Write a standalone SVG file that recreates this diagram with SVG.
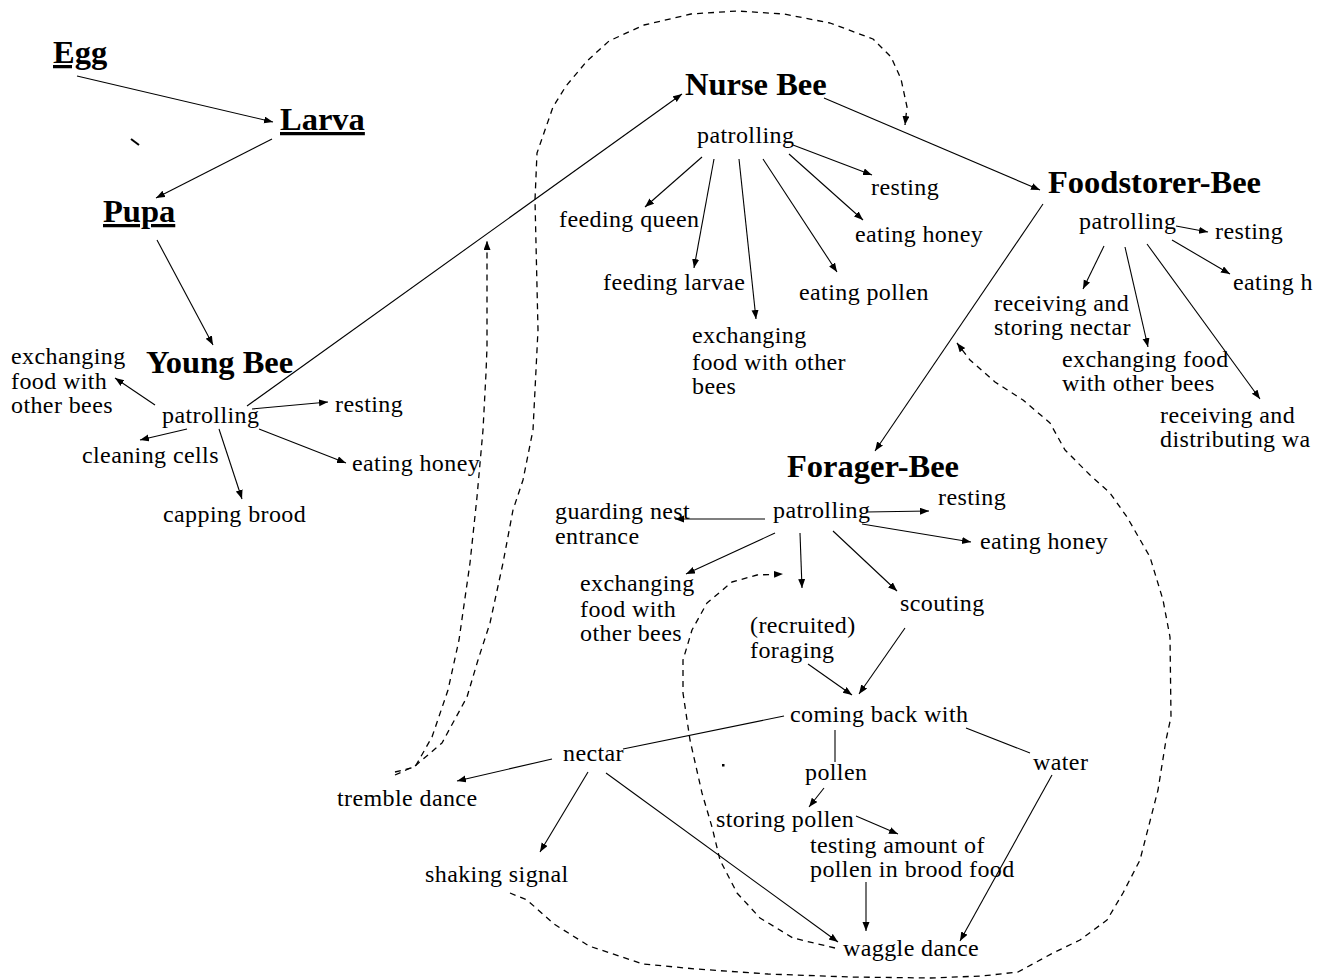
<svg xmlns="http://www.w3.org/2000/svg" width="1332" height="980" viewBox="0 0 1332 980">
<style>
text{font-family:"Liberation Serif","Times New Roman",serif;fill:#000}
.t{font-size:24px;letter-spacing:0.4px}
.b{font-size:32.5px;font-weight:bold}
.u{text-decoration:underline}
.c{fill:none;stroke:#000;stroke-width:1.1}
.d{fill:none;stroke:#000;stroke-width:1.3;stroke-dasharray:6 5;stroke-linejoin:round}
</style>
<defs>
<marker id="ah" markerUnits="userSpaceOnUse" markerWidth="10" markerHeight="8" refX="9" refY="3.5" orient="auto">
<path d="M0,0 L9,3.5 L0,7 z" fill="#000"/>
</marker>
</defs>
<rect width="1332" height="980" fill="#fff"/>

<g id="connectors">
<g class="c" marker-end="url(#ah)">
<path d="M77,76 L273,122"/>
<path d="M272,139 L156,198"/>
<path d="M157,240 L213,345"/>
<path d="M155,405 L115,378"/>
<path d="M252,409 L328,402"/>
<path d="M187,429 L140,440"/>
<path d="M219,429 L242,499"/>
<path d="M259,429 L346,463"/>
<path d="M247,406 L682,94"/>
<path d="M793,145 L872,175"/>
<path d="M789,154 L863,220"/>
<path d="M702,157 L645,207"/>
<path d="M714,159 L694,268"/>
<path d="M739,159 L756,319"/>
<path d="M763,159 L837,272"/>
<path d="M824,98 L1040,190"/>
<path d="M1176,226 L1208,232"/>
<path d="M1172,240 L1230,274"/>
<path d="M1104,246 L1083,289"/>
<path d="M1125,247 L1148,347"/>
<path d="M1147,244 L1260,399"/>
<path d="M1043,204 L875,451"/>
<path d="M765,519 L675,519"/>
<path d="M866,512 L929,511"/>
<path d="M862,524 L971,542"/>
<path d="M775,533 L686,574"/>
<path d="M800,533 L802,588"/>
<path d="M833,531 L897,591"/>
<path d="M905,628 L859,694"/>
<path d="M808,664 L852,695"/>
<path d="M552,759 L457,781"/>
<path d="M588,772 L540,852"/>
<path d="M606,773 L838,942"/>
<path d="M824,788 L809,807"/>
<path d="M856,816 L898,834"/>
<path d="M866,882 L866,931"/>
<path d="M1052,775 L960,941"/>
</g>
<g class="c">
<path d="M784,716 L623,749"/>
<path d="M835,730 L835,762"/>
<path d="M966,728 L1030,753"/>
</g>
<g class="d" marker-end="url(#ah)">
<path d="M395,775 L415,766 L442,743 L467,697 L478,660 L490,623 L503,563 L513,510 L523,480 L533,430 L538,330 L535,200 L537,153 L553,107 L566,86 L587,61 L609,41 L644,25 L691,14 L737,11 L784,14 L830,23 L873,39 L891,57 L901,79 L907,107 L905,125"/>
<path d="M395,772 L415,767 L432,737 L448,690 L459,640 L470,563 L477,497 L483,430 L486,373 L487,347 L487,241"/>
<path d="M510,893 L527,900 L554,924 L589,946 L643,964 L696,969 L768,974 L850,977 L930,978 L982,976 L1018,972 L1053,953 L1080,940 L1107,920 L1123,893 L1140,860 L1158,790 L1166,740 L1171,717 L1170,637 L1163,600 L1150,557 L1127,517 L1110,493 L1090,475 L1065,450 L1050,423 L1023,400 L995,382 L970,360 L957,343"/>
<path d="M835,948 L793,938 L760,918 L737,893 L720,860 L712,827 L702,793 L690,740 L683,693 L683,660 L692,630 L707,603 L732,582 L757,575 L783,574"/>
</g>
<path d="M131,139 L139,145" stroke="#000" stroke-width="2"/>
<rect x="722" y="764" width="2.5" height="2.5" fill="#000"/>
</g>

<g id="egg"><text class="b u" x="53" y="63">Egg</text></g>
<g id="larva"><text class="b u" x="280" y="130">Larva</text></g>
<g id="pupa"><text class="b u" x="103" y="222">Pupa</text></g>

<g id="young-bee"><text class="b" x="146" y="373">Young Bee</text></g>
<g id="yb-patrolling"><text class="t" x="162" y="423">patrolling</text></g>
<g id="yb-exchanging"><text class="t" x="11" y="364">exchanging</text><text class="t" x="11" y="389">food with</text><text class="t" x="11" y="413">other bees</text></g>
<g id="yb-resting"><text class="t" x="335" y="412">resting</text></g>
<g id="yb-cleaning"><text class="t" x="82" y="463">cleaning cells</text></g>
<g id="yb-eating-honey"><text class="t" x="352" y="471">eating honey</text></g>
<g id="yb-capping"><text class="t" x="163" y="522">capping brood</text></g>

<g id="nurse-bee"><text class="b" x="685" y="95">Nurse Bee</text></g>
<g id="nb-patrolling"><text class="t" x="697" y="143">patrolling</text></g>
<g id="nb-resting"><text class="t" x="871" y="195">resting</text></g>
<g id="nb-eating-honey"><text class="t" x="855" y="242">eating honey</text></g>
<g id="nb-feeding-queen"><text class="t" x="559" y="227">feeding queen</text></g>
<g id="nb-feeding-larvae"><text class="t" x="603" y="290">feeding larvae</text></g>
<g id="nb-eating-pollen"><text class="t" x="799" y="300">eating pollen</text></g>
<g id="nb-exchanging"><text class="t" x="692" y="343">exchanging</text><text class="t" x="692" y="370">food with other</text><text class="t" x="692" y="394">bees</text></g>

<g id="foodstorer-bee"><text class="b" x="1048" y="193">Foodstorer-Bee</text></g>
<g id="fs-patrolling"><text class="t" x="1079" y="229">patrolling</text></g>
<g id="fs-resting"><text class="t" x="1215" y="239">resting</text></g>
<g id="fs-eating"><text class="t" x="1233" y="290">eating h</text></g>
<g id="fs-receiving-storing"><text class="t" x="994" y="311">receiving and</text><text class="t" x="994" y="335">storing nectar</text></g>
<g id="fs-exchanging"><text class="t" x="1062" y="367">exchanging food</text><text class="t" x="1062" y="391">with other bees</text></g>
<g id="fs-receiving-distributing"><text class="t" x="1160" y="423">receiving and</text><text class="t" x="1160" y="447">distributing wa</text></g>

<g id="forager-bee"><text class="b" x="787" y="477">Forager-Bee</text></g>
<g id="fb-patrolling"><text class="t" x="773" y="518">patrolling</text></g>
<g id="fb-guarding"><text class="t" x="555" y="519">guarding nest</text><text class="t" x="555" y="544">entrance</text></g>
<g id="fb-resting"><text class="t" x="938" y="505">resting</text></g>
<g id="fb-eating-honey"><text class="t" x="980" y="549">eating honey</text></g>
<g id="fb-exchanging"><text class="t" x="580" y="591">exchanging</text><text class="t" x="580" y="617">food with</text><text class="t" x="580" y="641">other bees</text></g>
<g id="fb-recruited"><text class="t" x="750" y="633">(recruited)</text><text class="t" x="750" y="658">foraging</text></g>
<g id="fb-scouting"><text class="t" x="900" y="611">scouting</text></g>
<g id="fb-coming-back"><text class="t" x="790" y="722">coming back with</text></g>
<g id="fb-nectar"><text class="t" x="563" y="761">nectar</text></g>
<g id="fb-pollen"><text class="t" x="805" y="780">pollen</text></g>
<g id="fb-water"><text class="t" x="1033" y="770">water</text></g>
<g id="fb-tremble"><text class="t" x="337" y="806">tremble dance</text></g>
<g id="fb-storing-pollen"><text class="t" x="716" y="827">storing pollen</text></g>
<g id="fb-testing"><text class="t" x="810" y="853">testing amount of</text><text class="t" x="810" y="877">pollen in brood food</text></g>
<g id="fb-shaking"><text class="t" x="425" y="882">shaking signal</text></g>
<g id="fb-waggle"><text class="t" x="843" y="956">waggle dance</text></g>
</svg>
